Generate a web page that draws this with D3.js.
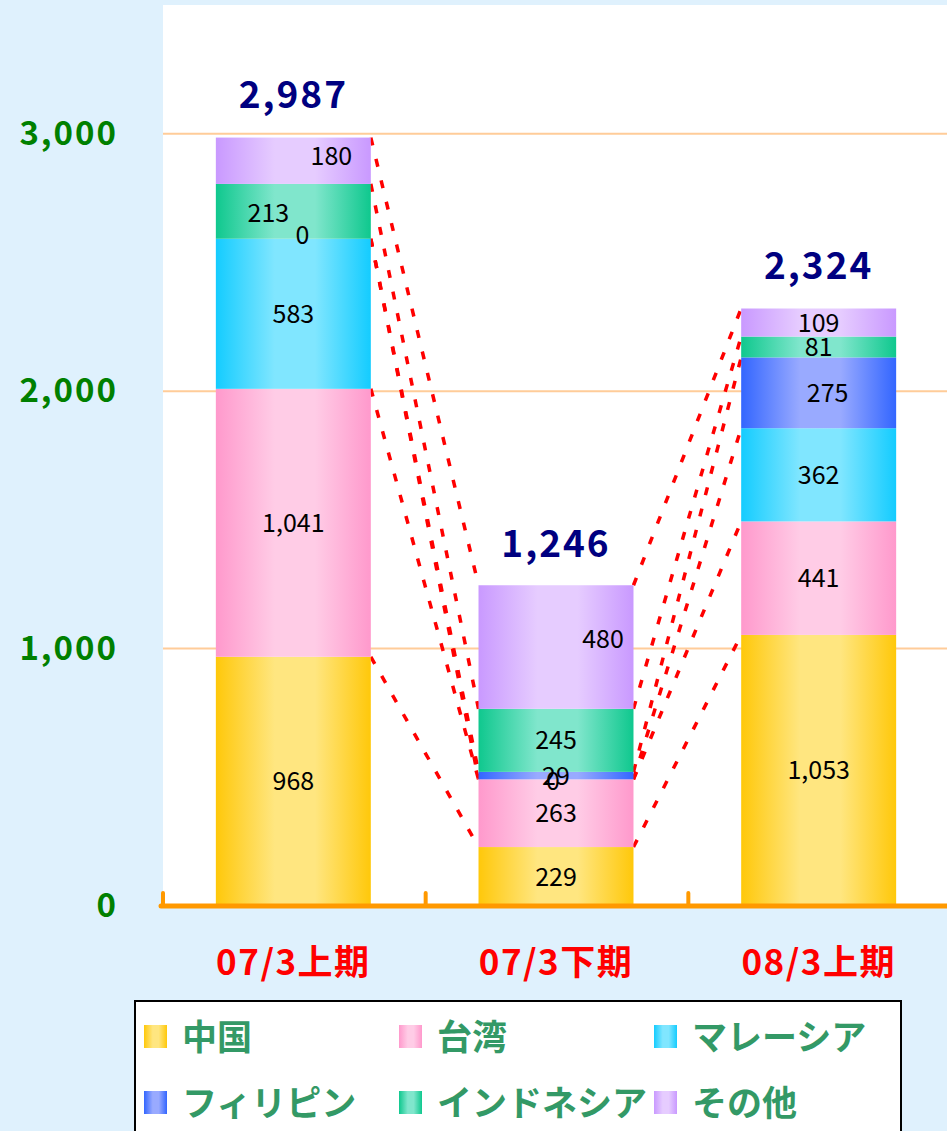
<!DOCTYPE html>
<html>
<head>
<meta charset="utf-8">
<script src="https://cdn.jsdelivr.net/npm/d3@7"></script>
<style>
  body { margin: 0; background: #dff1fd; }
  svg { display: block; }
</style>
</head>
<body>
<div id="chart"></div>
<script>
// categories + series
var categories = ["07/3上期", "07/3下期", "08/3上期"];
var seriesNames = ["中国", "台湾", "マレーシア", "フィリピン", "インドネシア", "その他"];
var china     = [968, 229, 1053];
var taiwan    = [1041, 263, 441];
var malaysia  = [583, 0, 362];
var philippin = [0, 29, 275];
var indonesia = [213, 245, 81];
var others    = [180, 480, 109];
var totals    = [2987, 1246, 2324];
var yTicks    = [0, 1000, 2000, 3000];

// edge / centre colours of each series gradient
var edgeColors  = ["#ffc80a", "#ff99cc", "#14ccff", "#3366ff", "#0fc88e", "#c999ff"];
var lightColors = ["#ffe680", "#ffcce6", "#80e6ff", "#99aaff", "#80e6cc", "#e6ccff"];

// label nudges (px) where Excel moved a label off centre
var nudge = {
    "3|0": [9, -4], "4|0": [-25, 2], "5|0": [38, -5],
    "2|1": [-3, 2], "5|1": [47, -8], "3|2": [9, 0]
};

var W = 947, H = 1131;
var pLeft = 163, pRight = 951, pTop = 5, pBottom = 906;

var svg = d3.select("#chart").append("svg")
    .attr("width", W)
    .attr("height", H);

var defs = svg.append("defs");
edgeColors.forEach(function (c, i) {
    var g = defs.append("linearGradient")
        .attr("id", "grad" + i)
        .attr("x1", 0).attr("x2", 1).attr("y1", 0).attr("y2", 0);
    g.append("stop").attr("offset", "0%").attr("stop-color", c);
    g.append("stop").attr("offset", "38%").attr("stop-color", lightColors[i]);
    g.append("stop").attr("offset", "64%").attr("stop-color", lightColors[i]);
    g.append("stop").attr("offset", "100%").attr("stop-color", c);
});

// plot area
svg.append("rect")
    .attr("x", pLeft).attr("y", pTop)
    .attr("width", pRight - pLeft).attr("height", pBottom - pTop)
    .attr("fill", "#ffffff");

var x = d3.scaleBand().domain(categories).range([pLeft, pRight]).padding(0);
var y = d3.scaleLinear().domain([0, 3500]).range([pBottom, pTop]);
var barW = x.bandwidth() * 0.59;
function barX(d) { return x(d) + (x.bandwidth() - barW) / 2 - 1; }

// gridlines
svg.append("g").selectAll("line")
    .data(yTicks.filter(function (d) { return d > 0; }))
    .enter().append("line")
    .attr("x1", pLeft).attr("x2", W)
    .attr("y1", function (d) { return y(d); })
    .attr("y2", function (d) { return y(d); })
    .attr("stroke", "#ffcc99")
    .attr("stroke-width", 2);

// stack the data
var values = [china, taiwan, malaysia, philippin, indonesia, others];
var rows = categories.map(function (c, j) {
    var r = { cat: c };
    seriesNames.forEach(function (s, i) { r[s] = values[i][j]; });
    return r;
});
var stacked = d3.stack().keys(seriesNames)(rows);

// series lines (red dotted) between neighbouring bars
var lineG = svg.append("g");
stacked.forEach(function (layer) {
    for (var j = 0; j < categories.length - 1; j++) {
        lineG.append("line")
            .attr("x1", barX(categories[j]) + barW)
            .attr("y1", y(layer[j][1]))
            .attr("x2", barX(categories[j + 1]))
            .attr("y2", y(layer[j + 1][1]))
            .attr("stroke", "#ff0000")
            .attr("stroke-width", 3.5)
            .attr("stroke-dasharray", "8,14");
    }
});

// bars
var barG = svg.append("g");
stacked.forEach(function (layer, i) {
    barG.selectAll(".s" + i)
        .data(layer).enter()
        .append("rect")
        .attr("class", "s" + i)
        .attr("x", function (d) { return barX(d.data.cat); })
        .attr("y", function (d) { return y(d[1]); })
        .attr("width", barW)
        .attr("height", function (d) { return y(d[0]) - y(d[1]); })
        .attr("fill", "url(#grad" + i + ")");
});

// segment labels
var labG = svg.append("g")
    .attr("font-family", "'Noto Sans CJK JP', sans-serif")
    .attr("font-size", 25)
    .attr("fill", "#000")
    .attr("text-anchor", "middle");
stacked.forEach(function (layer, i) {
    layer.forEach(function (d, j) {
        var n = nudge[i + "|" + j] || [0, 0];
        labG.append("text")
            .attr("x", barX(d.data.cat) + barW / 2 + n[0])
            .attr("y", y((d[0] + d[1]) / 2) + n[1])
            .attr("dy", "0.36em")
            .text(d3.format(",")(d[1] - d[0]));
    });
});

// totals
svg.append("g").selectAll("text")
    .data(categories).enter()
    .append("text")
    .attr("x", function (d) { return barX(d) + barW / 2; })
    .attr("y", function (d, j) { return y(totals[j]) - 42; })
    .attr("dy", "0.36em")
    .attr("text-anchor", "middle")
    .attr("font-family", "'Noto Sans CJK JP', sans-serif")
    .attr("font-weight", "bold")
    .attr("font-size", 37)
    .attr("letter-spacing", 2)
    .attr("fill", "#000080")
    .text(function (d, j) { return d3.format(",")(totals[j]); });

// y axis labels
var yAxis = svg.append("g")
    .attr("transform", "translate(118,0)")
    .call(d3.axisLeft(y).tickValues(yTicks).tickSize(0).tickPadding(0).tickFormat(d3.format(",")));
yAxis.select(".domain").remove();
yAxis.selectAll("text")
    .attr("font-family", "'Noto Sans CJK JP', sans-serif")
    .attr("font-weight", "bold")
    .attr("font-size", 33)
    .attr("letter-spacing", 2)
    .attr("fill", "#008000");

// x axis: orange line with upward ticks at band edges
var xAxis = svg.append("g").attr("stroke", "#ff9900").attr("stroke-linecap", "round");
xAxis.append("line")
    .attr("x1", pLeft - 2).attr("x2", W + 5)
    .attr("y1", pBottom).attr("y2", pBottom)
    .attr("stroke-width", 5);
xAxis.selectAll(".tk")
    .data(categories).enter()
    .append("line")
    .attr("class", "tk")
    .attr("x1", function (d) { return x(d); })
    .attr("x2", function (d) { return x(d); })
    .attr("y1", pBottom).attr("y2", pBottom - 13)
    .attr("stroke-width", 4);

svg.append("g").selectAll("text")
    .data(categories).enter()
    .append("text")
    .attr("x", function (d) { return barX(d) + barW / 2; })
    .attr("y", 962)
    .attr("dy", "0.36em")
    .attr("text-anchor", "middle")
    .attr("font-family", "'Noto Sans CJK JP', sans-serif")
    .attr("font-weight", "bold")
    .attr("font-size", 35)
    .attr("letter-spacing", 1.5)
    .attr("fill", "#ff0000")
    .text(function (d) { return d; });

// legend
var legend = svg.append("g");
legend.append("rect")
    .attr("x", 135).attr("y", 1001)
    .attr("width", 766).attr("height", 160)
    .attr("fill", "#ffffff")
    .attr("stroke", "#000")
    .attr("stroke-width", 2);
var item = legend.selectAll(".item")
    .data(seriesNames).enter()
    .append("g")
    .attr("class", "item")
    .attr("transform", function (d, i) {
        return "translate(" + (144 + (i % 3) * 255) + "," + (1025 + Math.floor(i / 3) * 66) + ")";
    });
item.append("rect")
    .attr("width", 23).attr("height", 23)
    .attr("fill", function (d, i) { return "url(#grad" + i + ")"; });
item.append("text")
    .attr("x", 38)
    .attr("y", 12)
    .attr("dy", "0.36em")
    .attr("font-family", "'Noto Sans CJK JP', sans-serif")
    .attr("font-weight", "bold")
    .attr("font-size", 35)
    .attr("fill", "#339966")
    .text(function (d) { return d; });
</script>
</body>
</html>
